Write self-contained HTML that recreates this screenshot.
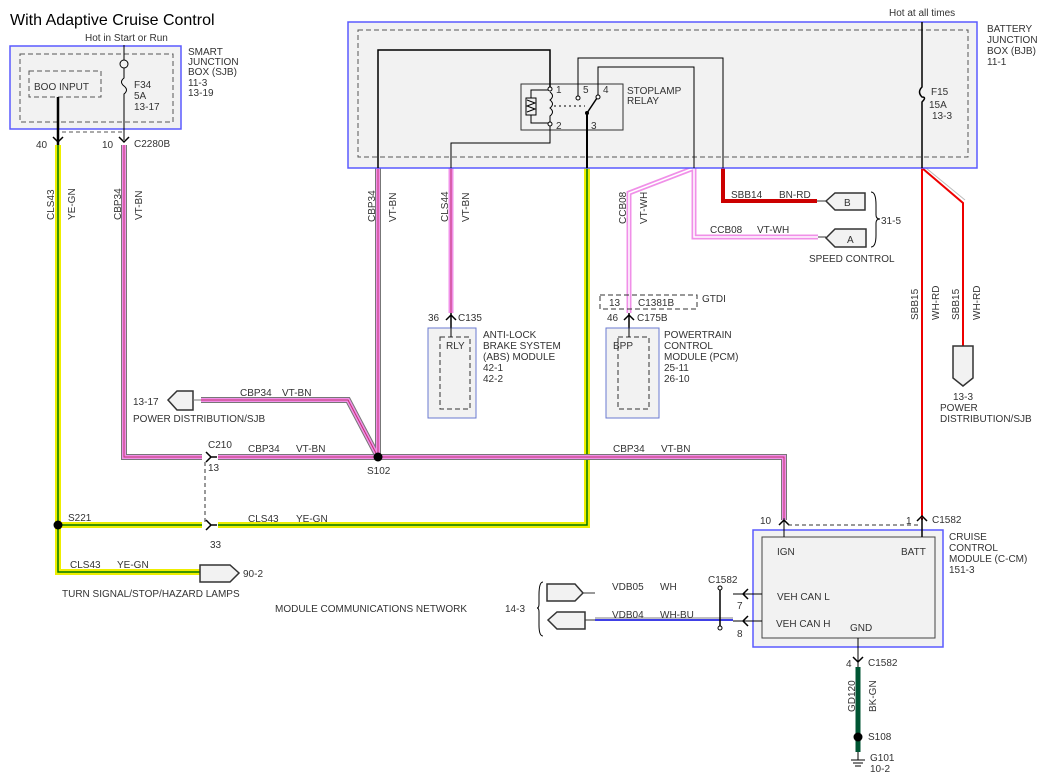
<!DOCTYPE html>
<html><head><meta charset="utf-8"><style>
body{margin:0;background:#fff}
svg{display:block}
text{font-family:"Liberation Sans",sans-serif;font-size:10px;fill:#333}
</style></head><body>
<svg width="1048" height="781" viewBox="0 0 1048 781" xmlns="http://www.w3.org/2000/svg">
<defs>
<g id="arD"><path d="M-5,-5 L0,0 L5,-5" fill="none" stroke="#000" stroke-width="1.5"/></g>
<g id="arU"><path d="M-5,5 L0,0 L5,5" fill="none" stroke="#000" stroke-width="1.5"/></g>
</defs>
<text x="10" y="25" style="font-size:16px;fill:#000">With Adaptive Cruise Control</text>

<!-- SJB -->
<rect x="10" y="46" width="171" height="83" fill="#f2f2f2" stroke="#5a5aff" stroke-width="1.5"/>
<rect x="20" y="54" width="153" height="68" fill="none" stroke="#555" stroke-dasharray="5,3"/>
<rect x="29" y="71" width="72" height="26" fill="none" stroke="#555" stroke-dasharray="5,3"/>
<text x="34" y="90">BOO INPUT</text>
<text x="85" y="41">Hot in Start or Run</text>
<line x1="124" y1="45" x2="124" y2="60" stroke="#000"/>
<circle cx="124" cy="64" r="4" fill="none" stroke="#000"/>
<path d="M124,68 L124,78 Q119,82 124,86 Q129,90 124,94 L124,140" fill="none" stroke="#000"/>
<text x="134" y="88">F34</text><text x="134" y="99">5A</text><text x="134" y="110">13-17</text>
<text x="188" y="55">SMART</text><text x="188" y="65">JUNCTION</text><text x="188" y="75">BOX (SJB)</text><text x="188" y="86">11-3</text><text x="188" y="96">13-19</text>
<line x1="58" y1="97" x2="58" y2="145" stroke="#000" stroke-width="2.5"/>
<line x1="62" y1="132" x2="124" y2="132" stroke="#555" stroke-dasharray="4,3"/>
<use href="#arD" x="58" y="142"/><use href="#arD" x="124" y="142"/>
<text x="36" y="148">40</text><text x="102" y="148">10</text><text x="134" y="147">C2280B</text>

<g fill="none" stroke-linejoin="miter">
<path d="M58,145 V572 H200" stroke="#ee0" stroke-width="6"/>
<path d="M58,145 V572 H200" stroke="#070" stroke-width="1.5"/>
<path d="M58,525 H202 M218,525 H587 V168" stroke="#ee0" stroke-width="6"/>
<path d="M58,525 H202 M218,525 H587 V168" stroke="#070" stroke-width="1.5"/>
<path d="M124,145 V457 H202 M218,457 H784 V520 M378,168 V457 M201,400 H348 L378,457" stroke="#777" stroke-width="6"/>
<path d="M124,145 V457 H202 M218,457 H784 V520 M378,168 V457 M201,400 H348 L378,457" stroke="#f090e8" stroke-width="4"/>
<path d="M124,145 V457 H202 M218,457 H784 V520 M378,168 V457 M201,400 H348 L378,457" stroke="#c03070" stroke-width="1"/>
<path d="M451,168 V313" stroke="#f090e8" stroke-width="5"/>
<path d="M451,168 V313" stroke="#c03070" stroke-width="1"/>
<path d="M694,168 L629,193 V313 M694,168 V237 H818" stroke="#f090e8" stroke-width="5"/>
<path d="M694,168 L629,193 V313 M694,168 V237 H818" stroke="#fff" stroke-width="1.5"/>
<path d="M723,168 V201 H817" stroke="#c00" stroke-width="4"/>
<path d="M922,168 V520 M922,168 L963,203 V346" stroke="#e00" stroke-width="2"/>
<path d="M926,168 L965,200" stroke="#bbb" stroke-width="1"/>
<path d="M858,667 V752" stroke="#053" stroke-width="5"/>
</g>

<!-- BJB -->
<rect x="348" y="22" width="629" height="146" fill="#f2f2f2" stroke="#5a5aff" stroke-width="1.5"/>
<rect x="358" y="30" width="610" height="127" fill="none" stroke="#555" stroke-dasharray="5,3"/>
<text x="889" y="16">Hot at all times</text>
<path d="M922,22 V87 Q917,92 922,97 Q927,97 922,102 V168" fill="none" stroke="#000" stroke-width="1.5"/>
<text x="931" y="95">F15</text><text x="929" y="108">15A</text><text x="932" y="119">13-3</text>
<text x="987" y="32">BATTERY</text><text x="987" y="43">JUNCTION</text><text x="987" y="54">BOX (BJB)</text><text x="987" y="65">11-1</text>
<rect x="521" y="84" width="102" height="46" fill="none" stroke="#333"/>
<g fill="none" stroke="#000">
<path d="M378,168 V50 H550 V89" stroke-width="1.5"/>
<path d="M550,124 V143 H451 V168"/>
<path d="M578,98 V58 H723 V168"/>
<path d="M598,97 V67 H694 V168"/>
<path d="M587,113 V168" stroke-width="2"/>
<path d="M550,90 H531 V123 H550"/>
<rect x="526" y="98" width="10" height="17" fill="#f2f2f2"/>
<path d="M527,100 L535,103 L527,106 L535,109 L527,112"/>
<path d="M550,92 Q555,96 550,100 Q555,104 550,108 Q555,112 550,116 V123"/>
<path d="M587,113 L597,98" stroke-width="1.5"/>
<path d="M554,106 H585" stroke-dasharray="2,3"/>
</g>
<circle cx="550" cy="89" r="2" fill="#fff" stroke="#000"/><circle cx="550" cy="124" r="2" fill="#fff" stroke="#000"/>
<circle cx="578" cy="98" r="2" fill="#fff" stroke="#000"/><circle cx="598" cy="97" r="2" fill="#fff" stroke="#000"/>
<circle cx="587" cy="113" r="2" fill="#000"/>
<text x="556" y="93">1</text><text x="556" y="129">2</text><text x="583" y="93">5</text><text x="603" y="93">4</text><text x="591" y="129">3</text>
<text x="627" y="94">STOPLAMP</text><text x="627" y="104">RELAY</text>

<g>
<text transform="translate(54,220) rotate(-90)">CLS43</text><text transform="translate(75,220) rotate(-90)">YE-GN</text>
<text transform="translate(121,220) rotate(-90)">CBP34</text><text transform="translate(142,220) rotate(-90)">VT-BN</text>
<text transform="translate(375,222) rotate(-90)">CBP34</text><text transform="translate(396,222) rotate(-90)">VT-BN</text>
<text transform="translate(448,222) rotate(-90)">CLS44</text><text transform="translate(469,222) rotate(-90)">VT-BN</text>
<text transform="translate(626,224) rotate(-90)">CCB08</text><text transform="translate(647,224) rotate(-90)">VT-WH</text>
<text transform="translate(918,320) rotate(-90)">SBB15</text><text transform="translate(939,320) rotate(-90)">WH-RD</text>
<text transform="translate(959,320) rotate(-90)">SBB15</text><text transform="translate(980,320) rotate(-90)">WH-RD</text>
<text transform="translate(855,712) rotate(-90)">GD120</text><text transform="translate(876,712) rotate(-90)">BK-GN</text>
</g>

<path d="M817,201 H826" stroke="#333"/><path d="M818,237 H826" stroke="#333"/>
<path d="M826,201 L835,193 H865 V210 H835 Z" fill="#f2f2f2" stroke="#333" stroke-width="1.5"/>
<path d="M826,238 L835,229 H866 V247 H835 Z" fill="#f2f2f2" stroke="#333" stroke-width="1.5"/>
<text x="844" y="206">B</text><text x="847" y="243">A</text>
<path d="M871,192 Q876,192 876,205 V215 Q876,219 880,219 Q876,219 876,223 V235 Q876,247 871,247" fill="none" stroke="#000"/>
<text x="881" y="224">31-5</text><text x="809" y="262">SPEED CONTROL</text>
<text x="731" y="198">SBB14</text><text x="779" y="198">BN-RD</text>
<text x="710" y="233">CCB08</text><text x="757" y="233">VT-WH</text>

<path d="M953,346 H973 V378 L963,386 L953,378 Z" fill="#f2f2f2" stroke="#333" stroke-width="1.5"/>
<text x="953" y="400">13-3</text><text x="940" y="411">POWER</text><text x="940" y="422">DISTRIBUTION/SJB</text>

<line x1="451" y1="313" x2="451" y2="337" stroke="#000" stroke-width="1.5"/>
<use href="#arU" x="451" y="315"/>
<text x="428" y="321">36</text><text x="458" y="321">C135</text>
<rect x="428" y="328" width="48" height="90" fill="#f2f2f2" stroke="#6a7ad0" stroke-width="1"/>
<rect x="440" y="337" width="30" height="72" fill="none" stroke="#333" stroke-dasharray="5,3"/>
<line x1="451" y1="318" x2="451" y2="337" stroke="#000"/>
<text x="446" y="349">RLY</text>
<text x="483" y="338">ANTI-LOCK</text><text x="483" y="349">BRAKE SYSTEM</text><text x="483" y="360">(ABS) MODULE</text><text x="483" y="371">42-1</text><text x="483" y="382">42-2</text>

<rect x="600" y="295" width="97" height="14" fill="none" stroke="#333" stroke-dasharray="5,3"/>
<text x="609" y="306">13</text><text x="638" y="306">C1381B</text><text x="702" y="302">GTDI</text>
<line x1="629" y1="313" x2="629" y2="337" stroke="#000" stroke-width="1.5"/>
<use href="#arU" x="629" y="315"/>
<text x="607" y="321">46</text><text x="637" y="321">C175B</text>
<rect x="606" y="328" width="53" height="90" fill="#f2f2f2" stroke="#6a7ad0"/>
<rect x="618" y="337" width="31" height="72" fill="none" stroke="#333" stroke-dasharray="5,3"/>
<line x1="629" y1="318" x2="629" y2="337" stroke="#000"/>
<text x="613" y="349">BPP</text>
<text x="664" y="338">POWERTRAIN</text><text x="664" y="349">CONTROL</text><text x="664" y="360">MODULE (PCM)</text><text x="664" y="371">25-11</text><text x="664" y="382">26-10</text>

<path d="M168,400 L177,391 H193 V410 H177 Z" fill="#f2f2f2" stroke="#333" stroke-width="1.5"/>
<line x1="193" y1="400" x2="201" y2="400" stroke="#777"/>
<text x="133" y="405">13-17</text><text x="133" y="422">POWER DISTRIBUTION/SJB</text>
<text x="240" y="396">CBP34</text><text x="282" y="396">VT-BN</text>
<text x="208" y="448">C210</text><text x="248" y="452">CBP34</text><text x="296" y="452">VT-BN</text>
<text x="613" y="452">CBP34</text><text x="661" y="452">VT-BN</text>
<path d="M206,452 L211,457 L206,462 M211,457 H217" fill="none" stroke="#000" stroke-width="1.5"/>
<text x="208" y="471">13</text>
<line x1="205" y1="462" x2="205" y2="522" stroke="#333" stroke-dasharray="4,3"/>
<path d="M206,520 L211,525 L206,530 M211,525 H217" fill="none" stroke="#000" stroke-width="1.5"/>
<text x="210" y="548">33</text>
<circle cx="378" cy="457" r="4.5" fill="#000"/><text x="367" y="474">S102</text>
<circle cx="58" cy="525" r="4.5" fill="#000"/><text x="68" y="521">S221</text>
<text x="248" y="522">CLS43</text><text x="296" y="522">YE-GN</text>
<text x="70" y="568">CLS43</text><text x="117" y="568">YE-GN</text>
<path d="M200,565 H230 L239,573 L230,582 H200 Z" fill="#f2f2f2" stroke="#333" stroke-width="1.5"/>
<text x="243" y="577">90-2</text>
<text x="62" y="597">TURN SIGNAL/STOP/HAZARD LAMPS</text>

<rect x="753" y="530" width="190" height="117" fill="#f2f2f2" stroke="#5a5aff" stroke-width="1.5"/>
<rect x="762" y="537" width="173" height="101" fill="none" stroke="#444"/>
<line x1="784" y1="518" x2="784" y2="537" stroke="#000"/><line x1="922" y1="518" x2="922" y2="537" stroke="#000" stroke-width="1.5"/>
<use href="#arU" x="784" y="520"/><use href="#arU" x="922" y="516"/>
<line x1="788" y1="525" x2="918" y2="525" stroke="#333" stroke-dasharray="4,3"/>
<text x="760" y="524">10</text><text x="906" y="524">1</text><text x="932" y="523">C1582</text>
<text x="777" y="555">IGN</text><text x="901" y="555">BATT</text>
<text x="777" y="600">VEH CAN L</text><text x="776" y="627">VEH CAN H</text><text x="850" y="631">GND</text>
<text x="949" y="540">CRUISE</text><text x="949" y="551">CONTROL</text><text x="949" y="562">MODULE (C-CM)</text><text x="949" y="573">151-3</text>

<path d="M733,594 H762 M733,621 H762" stroke="#000"/>
<path d="M748,589 L743,594 L748,599 M748,616 L743,621 L748,626" fill="none" stroke="#000" stroke-width="1.5"/>
<text x="737" y="609">7</text><text x="737" y="637">8</text>
<line x1="595" y1="620" x2="733" y2="620" stroke="#00d" stroke-width="1.5"/>
<line x1="595" y1="618" x2="733" y2="618" stroke="#aaa" stroke-width="1.5"/>
<path d="M720,589 L720,628" stroke="#000" stroke-width="1.5"/>
<circle cx="720" cy="588" r="2" fill="#fff" stroke="#000"/><circle cx="720" cy="628" r="2" fill="#fff" stroke="#000"/>
<text x="708" y="583">C1582</text>
<text x="612" y="590">VDB05</text><text x="660" y="590">WH</text>
<text x="612" y="618">VDB04</text><text x="660" y="618">WH-BU</text>
<path d="M547,584 H575 L583,593 L575,601 H547 Z" fill="#f2f2f2" stroke="#333" stroke-width="1.5"/>
<line x1="583" y1="593" x2="595" y2="593" stroke="#333"/>
<path d="M585,612 H557 L548,620 L557,629 H585 Z" fill="#f2f2f2" stroke="#333" stroke-width="1.5"/>
<line x1="585" y1="620" x2="595" y2="620" stroke="#333"/>
<path d="M543,582 Q539,582 539,595 V604 Q539,608 537,608 Q539,608 539,612 V625 Q539,636 543,636" fill="none" stroke="#000"/>
<text x="505" y="612">14-3</text><text x="275" y="612">MODULE COMMUNICATIONS NETWORK</text>

<line x1="858" y1="638" x2="858" y2="667" stroke="#000"/>
<use href="#arD" x="858" y="662"/>
<text x="846" y="667">4</text><text x="868" y="666">C1582</text>
<circle cx="858" cy="737" r="4.5" fill="#000"/><text x="868" y="740">S108</text>
<path d="M858,752 V760 M851,760 H865 M853,763 H863 M855,766 H861" stroke="#000"/>
<text x="870" y="761">G101</text><text x="870" y="772">10-2</text>
</svg>
</body></html>
